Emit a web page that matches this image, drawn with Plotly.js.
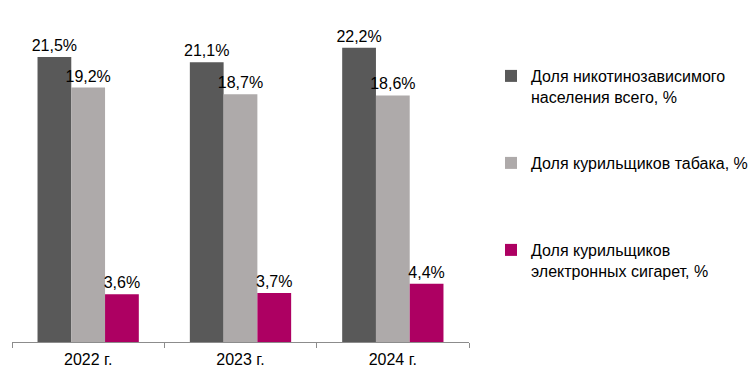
<!DOCTYPE html>
<html>
<head>
<meta charset="utf-8">
<script src="https://cdn.plot.ly/plotly-3.0.1.min.js"></script>
<style>html,body{margin:0;padding:0;background:#fff;}</style>
</head>
<body>
<div id="chart" style="width:753px;height:386px;"></div>
<script>
const categories = ["2022 г.", "2023 г.", "2024 г."];
const nicotineDependent = [21.5, 21.1, 22.2];
const tobaccoSmokers = [19.2, 18.7, 18.6];
const eCigSmokers = [3.6, 3.7, 4.4];
const seriesNames = [
  "Доля никотинозависимого<br>населения всего, %",
  "Доля курильщиков табака, %",
  "Доля курильщиков<br>электронных сигарет, %"
];
const colors = ["#595959", "#AEAAAA", "#AD0062"];
const FONT = "Liberation Sans, Arial, sans-serif";

const series = [nicotineDependent, tobaccoSmokers, eCigSmokers];
const legendIds = ["legend", "legend2", "legend3"];
const traces = series.map((vals, i) => ({
  type: "bar",
  x: categories,
  y: vals,
  name: seriesNames[i],
  marker: {color: colors[i]},
  texttemplate: "%{y:.1f}%",
  textposition: "outside",
  constraintext: "none",
  cliponaxis: false,
  textfont: {family: FONT, size: 16, color: "#000"},
  legend: legendIds[i],
  hoverinfo: "none"
}));

const legendBase = {
  xref: "container", yref: "container",
  x: 491/753, xanchor: "left", yanchor: "top",
  valign: "top",
  font: {family: FONT, size: 16, color: "#000"},
  bgcolor: "rgba(0,0,0,0)", borderwidth: 0
};

const layout = {
  width: 753, height: 386,
  margin: {l: 12, r: 284, t: 10, b: 44},
  paper_bgcolor: "#fff", plot_bgcolor: "#fff",
  separators: ", ",
  barmode: "group",
  bargap: 0.335, bargroupgap: 0,
  font: {family: FONT, size: 16, color: "#000"},
  xaxis: {
    type: "category",
    showline: true, linecolor: "#8c8c8c", linewidth: 1,
    ticks: "outside", tickson: "boundaries", ticklen: 5, tickcolor: "#8c8c8c",
    ticklabelstandoff: 3,
    tickfont: {family: FONT, size: 16, color: "#000"},
    showgrid: false, zeroline: false, fixedrange: true
  },
  yaxis: {range: [0, 25.05], visible: false, fixedrange: true},
  showlegend: true,
  legend: Object.assign({}, legendBase, {y: 1 - 59/386}),
  legend2: Object.assign({}, legendBase, {y: 1 - 146/386}),
  legend3: Object.assign({}, legendBase, {y: 1 - 233/386})
};

Plotly.newPlot("chart", traces, layout, {displayModeBar: false, staticPlot: true});
</script>
</body>
</html>
